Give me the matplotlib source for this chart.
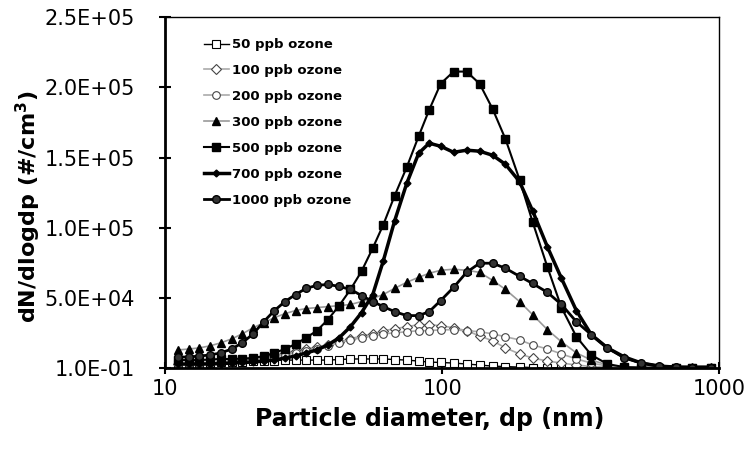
import numpy as np
import matplotlib.pyplot as plt

# particle diameter (nm)
dp = [11.1, 12.2, 13.3, 14.5, 15.9, 17.4, 19.0, 20.8, 22.7, 24.8, 27.1, 29.6, 32.3, 35.3, 38.7,
      42.5, 46.7, 51.2, 56.2, 61.3, 67.4, 74.5, 82.3, 89.8, 98.8, 110.0, 122.5, 136.5, 152.1,
      169.3, 190.2, 212.0, 240.0, 269.6, 305.2, 345.7, 394.9, 454.7, 523.6, 607.8, 699.8, 799.3, 935.9]

# dN/dlogdp in thousands #/cm3
n50 = [2.9, 2.9, 3.2, 3.6, 4.0, 4.3, 4.7, 5.0, 5.0, 5.4, 5.7, 5.7, 5.7, 5.7, 5.7, 6.1, 6.5, 6.5,
       6.5, 6.5, 6.1, 5.7, 5.0, 4.3, 4.0, 3.6, 2.9, 2.2, 1.4, 1.1, 0.7, 0.4, 0.2, 0.2, 0.1, 0.1,
       0.1, 0.1, 0.1, 0.1, 0.1, 0.1, 0.1]
n100 = [2.9, 2.9, 3.6, 3.6, 4.3, 5.0, 5.7, 6.5, 7.9, 9.3, 10.8, 12.2, 13.6, 15.1, 16.5, 18.7, 20.8,
        23.0, 24.4, 26.6, 28.0, 29.5, 30.9, 30.9, 30.2, 28.7, 26.6, 23.0, 19.4, 14.4, 10.1, 7.2,
        5.0, 3.6, 2.2, 1.1, 0.7, 0.4, 0.2, 0.1, 0.1, 0.1, 0.1]
n200 = [2.9, 2.9, 3.2, 3.6, 4.0, 4.3, 5.0, 5.7, 7.2, 7.9, 9.3, 10.8, 12.2, 13.6, 15.8, 18.0, 20.1,
        21.6, 23.0, 24.4, 25.1, 25.9, 26.6, 26.6, 27.3, 27.3, 26.6, 25.9, 24.4, 22.3, 20.1, 16.5,
        13.6, 10.1, 6.5, 3.6, 1.4, 0.7, 0.4, 0.2, 0.1, 0.1, 0.1]
n300 = [12.9, 13.6, 14.4, 15.8, 18.0, 20.8, 24.4, 28.7, 32.3, 35.9, 38.8, 41.0, 42.4, 43.1, 43.8,
        44.5, 45.3, 47.4, 49.6, 52.4, 56.8, 61.1, 64.7, 67.5, 69.7, 70.4, 69.7, 68.2, 62.5, 56.0,
        47.4, 38.1, 27.3, 18.7, 10.8, 5.7, 2.2, 0.7, 0.4, 0.2, 0.1, 0.1, 0.1]
n500 = [5.7, 5.7, 5.7, 6.1, 6.5, 6.5, 6.8, 7.2, 8.6, 10.8, 13.6, 17.2, 21.6, 26.6, 34.5, 44.5,
        56.0, 69.0, 85.5, 102.0, 122.8, 143.0, 165.2, 183.9, 202.6, 211.2, 211.2, 202.6, 184.6,
        163.1, 134.3, 104.2, 71.8, 43.1, 22.3, 9.3, 2.9, 0.7, 0.4, 0.2, 0.1, 0.1, 0.1]
n700 = [2.9, 2.9, 2.9, 2.9, 3.2, 3.6, 4.0, 4.3, 5.0, 5.7, 7.2, 8.6, 10.8, 12.9, 16.5, 21.6, 29.5,
        39.5, 52.4, 76.2, 104.9, 131.5, 153.0, 160.2, 158.0, 153.7, 155.2, 154.5, 151.6, 145.1,
        132.9, 112.1, 86.2, 63.9, 40.9, 23.7, 14.4, 7.9, 3.6, 1.4, 0.7, 0.7, 0.7]
n1000 = [7.9, 7.9, 8.6, 9.3, 10.8, 13.6, 18.0, 24.4, 33.0, 40.9, 47.4, 52.4, 56.8, 58.9, 59.6,
         58.2, 56.0, 51.7, 47.4, 43.8, 40.2, 37.4, 37.4, 40.2, 48.1, 57.5, 68.2, 74.7, 74.7, 71.1,
         65.4, 60.3, 53.9, 45.3, 33.0, 23.7, 14.4, 7.2, 3.6, 1.4, 0.7, 0.4, 0.1]

labels = ["50 ppb ozone", "100 ppb ozone", "200 ppb ozone", "300 ppb ozone",
          "500 ppb ozone", "700 ppb ozone", "1000 ppb ozone"]
yticks = [0.1, 5e4, 1e5, 1.5e5, 2e5, 2.5e5]
ytick_labels = ["1.0E-01", "5.0E+04", "1.0E+05", "1.5E+05", "2.0E+05", "2.5E+05"]
xticks = [10, 100, 1000]

fig = plt.figure(figsize=(7.5, 4.5), dpi=100)
ax = fig.add_axes([0.22, 0.182, 0.739, 0.78])

k = 1e3
ax.plot(dp, np.array(n50) * k, color="black", lw=1, marker="s", ms=5.5, mfc="white", mec="black", mew=0.8)
ax.plot(dp, np.array(n100) * k, color="#aaaaaa", lw=1.2, marker="D", ms=5, mfc="white", mec="#444444", mew=0.8)
ax.plot(dp, np.array(n200) * k, color="#aaaaaa", lw=1.2, marker="o", ms=5.5, mfc="white", mec="#444444", mew=0.8)
ax.plot(dp, np.array(n300) * k, color="#999999", lw=1.2, marker="^", ms=6, mfc="black", mec="black")
ax.plot(dp, np.array(n500) * k, color="black", lw=1.5, marker="s", ms=5.5, mfc="black", mec="black")
ax.plot(dp, np.array(n700) * k, color="black", lw=2.5, marker="D", ms=3.5, mfc="black", mec="black")
ax.plot(dp, np.array(n1000) * k, color="black", lw=2, marker="o", ms=5.5, mfc="#333333", mec="black")

ax.set_xscale("log")
ax.set_xlim(10, 1000)
ax.set_ylim(0.1, 2.5e5)
ax.set_xticks(xticks)
ax.set_xticklabels([str(x) for x in xticks])
ax.xaxis.set_minor_locator(plt.NullLocator())
ax.set_yticks(yticks)
ax.set_yticklabels(ytick_labels)
ax.tick_params(axis="y", direction="inout", length=9, width=1.5, labelsize=15, pad=17)
ax.tick_params(axis="x", direction="inout", length=9, width=1.5, labelsize=15, pad=3)

for side in ["left", "bottom"]:
    ax.spines[side].set_linewidth(2)
for side in ["top", "right"]:
    ax.spines[side].set_linewidth(1)

ax.set_xlabel("Particle diameter, dp (nm)", fontsize=17, fontweight="bold")
ax.set_ylabel(r"dN/dlogdp (#/cm$^{\mathbf{3}}$)", fontsize=16, fontweight="bold")
ax.xaxis.set_label_coords(0.478, -0.112)
ax.yaxis.set_label_coords(-0.22, 0.46)

ax.legend(labels, loc="upper left", bbox_to_anchor=(0.07, 0.94), frameon=False,
          prop={"size": 9.5, "weight": "bold"}, handlelength=1.9, handletextpad=0.2,
          labelspacing=0.98, borderpad=0, borderaxespad=0)

plt.savefig("out.png", dpi=100)
